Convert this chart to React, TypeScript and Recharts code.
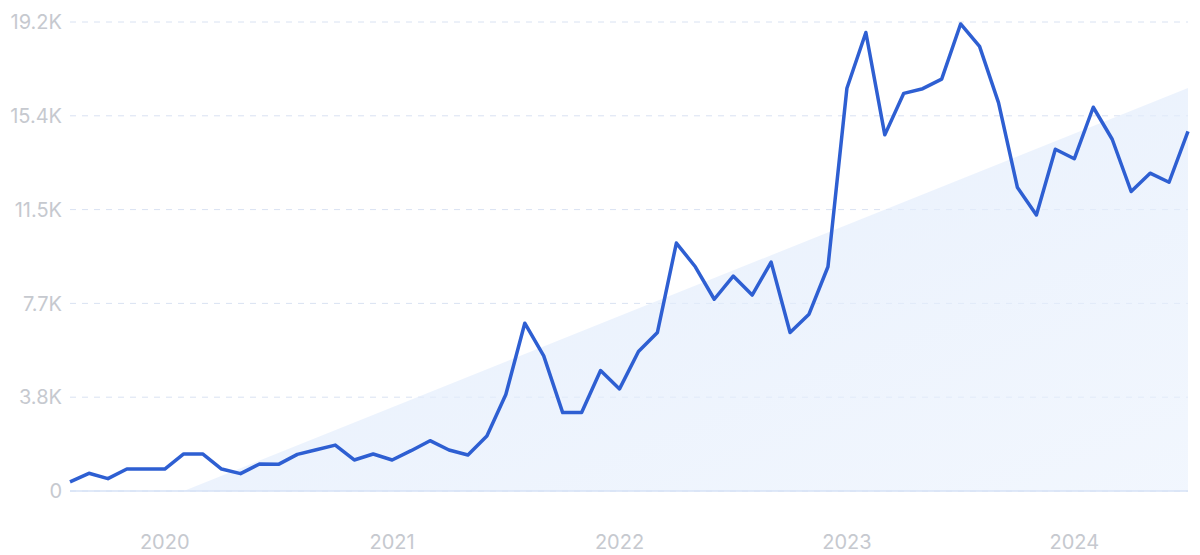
import React from 'react';
import { ComposedChart, Line, Area, XAxis, YAxis, CartesianGrid } from 'recharts';

// monthly search volume, Aug 2019 - Jul 2024

const MONTHS: string[] = [
  '2019-08', '2019-09', '2019-10', '2019-11', '2019-12',
  '2020-01', '2020-02', '2020-03', '2020-04', '2020-05', '2020-06', '2020-07', '2020-08', '2020-09', '2020-10', '2020-11', '2020-12',
  '2021-01', '2021-02', '2021-03', '2021-04', '2021-05', '2021-06', '2021-07', '2021-08', '2021-09', '2021-10', '2021-11', '2021-12',
  '2022-01', '2022-02', '2022-03', '2022-04', '2022-05', '2022-06', '2022-07', '2022-08', '2022-09', '2022-10', '2022-11', '2022-12',
  '2023-01', '2023-02', '2023-03', '2023-04', '2023-05', '2023-06', '2023-07', '2023-08', '2023-09', '2023-10', '2023-11', '2023-12',
  '2024-01', '2024-02', '2024-03', '2024-04', '2024-05', '2024-06', '2024-07',
];

const VOLUME: number[] = [
  370, 725, 505, 900, 900,
  900, 1515, 1515, 900, 710, 1105, 1090, 1500, 1690, 1880, 1270, 1515,
  1270, 1650, 2060, 1680, 1475, 2250, 3950, 6870, 5530, 3210, 3210, 4930,
  4180, 5710, 6490, 10150, 9180, 7850, 8800, 8020, 9370, 6490, 7240, 9180,
  16490, 18770, 14580, 16280, 16470, 16860, 19120, 18200, 15900, 12420, 11300, 13990,
  13600, 15710, 14400, 12260, 13010, 12640, 14720,
];

// trend area: only its two ends are given, the rest is joined across nulls
const TREND: (number | null)[] = MONTHS.map(() => null);
TREND[6] = 0;
TREND[59] = 16500;

const Y_TICKS = [0, 3840, 7680, 11520, 15360, 19200];
const Y_LABELS = ['0', '3.8K', '7.7K', '11.5K', '15.4K', '19.2K'];
const YEAR_TICKS = ['2020-01', '2021-01', '2022-01', '2023-01', '2024-01'];

const data = MONTHS.map((month, i) => ({
  month,
  volume: VOLUME[i],
  trend: TREND[i],
}));

const LABEL_COLOR = '#c6c9cf';
const FONT = 'Inter, "Noto Sans", sans-serif';

function YearTick(props: any) {
  const { x, y, payload } = props;
  return (
    <text x={x} y={y + 56} textAnchor="middle" fill={LABEL_COLOR} fontSize={20} fontFamily={FONT}>
      {payload.value.slice(0, 4)}
    </text>
  );
}

export default function App() {
  return (
    <div style={{ width: 1200, height: 555, background: '#fff' }}>
      <style>{'body{margin:0}'}</style>
      <ComposedChart width={1200} height={555} data={data} margin={{ top: 22, right: 12, bottom: 0, left: 0 }}>
        <defs>
          <linearGradient id="trendFill" x1="0" y1="0" x2="1" y2="1">
            <stop offset="0%" stopColor="#dde9fb" stopOpacity={0.75} />
            <stop offset="100%" stopColor="#e9f1fd" stopOpacity={0.6} />
          </linearGradient>
        </defs>
        <CartesianGrid vertical={false} stroke="#d9e2f2" strokeDasharray="6 6" />
        <XAxis
          dataKey="month"
          scale="point"
          ticks={YEAR_TICKS}
          tick={<YearTick />}
          tickLine={false}
          tickSize={0}
          axisLine={{ stroke: '#d6e2f6', strokeWidth: 1.5 }}
          height={64}
          interval={0}
        />
        <YAxis
          domain={[0, 19200]}
          ticks={Y_TICKS}
          tickFormatter={(v: number) => Y_LABELS[Y_TICKS.indexOf(v)]}
          width={70}
          axisLine={false}
          tickLine={false}
          tickSize={0}
          tickMargin={8}
          tick={{ fill: LABEL_COLOR, fontSize: 20, fontFamily: FONT }}
        />
        <Area
          dataKey="trend"
          type="linear"
          connectNulls
          stroke="none"
          fill="url(#trendFill)"
          fillOpacity={1}
          isAnimationActive={false}
          activeDot={false}
        />
        <Line
          dataKey="volume"
          type="linear"
          stroke="#2e5fd2"
          strokeWidth={3.5}
          strokeLinejoin="round"
          dot={false}
          activeDot={false}
          isAnimationActive={false}
        />
      </ComposedChart>
    </div>
  );
}
